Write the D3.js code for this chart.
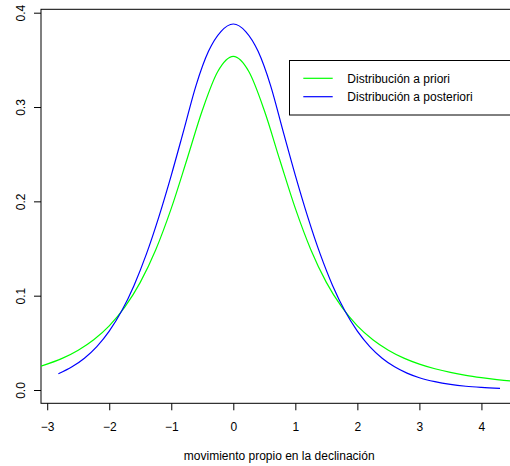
<!DOCTYPE html>
<html>
<head>
<meta charset="utf-8">
<script src="https://cdn.jsdelivr.net/npm/d3@7"></script>
<style>
  body { margin: 0; background: #fff; }
  text { font-family: "Liberation Sans", Arial, sans-serif; }
</style>
</head>
<body>
<div class="chart"></div>
<script>
// prior (green)
var priorX = [-3.1, -2.75, -2.5, -2.25, -2.0, -1.75, -1.5, -1.25, -1.0, -0.75, -0.5, -0.25, 0,
              0.25, 0.5, 0.75, 1.0, 1.25, 1.5, 1.75, 2.0, 2.25, 2.5, 2.75, 3.0, 3.25, 3.5, 3.75, 4.0, 4.25, 4.5, 4.6];
var priorY = [0.0253, 0.0338, 0.0422, 0.0533, 0.0680, 0.0878, 0.1141, 0.1487, 0.1925, 0.2438, 0.2963, 0.3376, 0.3536,
              0.3376, 0.2963, 0.2438, 0.1925, 0.1487, 0.1141, 0.0878, 0.0680, 0.0533, 0.0422, 0.0338, 0.0274, 0.0225, 0.0186, 0.0155, 0.0131, 0.0111, 0.0095, 0.0090];

// posterior (blue)
var postX = [-2.82, -2.6, -2.4, -2.2, -2.0, -1.8, -1.6, -1.4, -1.2, -1.0, -0.8, -0.6, -0.4, -0.2, 0,
             0.2, 0.4, 0.6, 0.8, 1.0, 1.2, 1.4, 1.6, 1.8, 2.0, 2.2, 2.4, 2.6, 2.8, 3.0, 3.25, 3.5, 3.75, 4.0, 4.3];
var postY = [0.0172, 0.0246, 0.0337, 0.0460, 0.0624, 0.0837, 0.1109, 0.1443, 0.1836, 0.2276, 0.2750, 0.3230, 0.3590, 0.3800, 0.3880,
             0.3800, 0.3590, 0.3230, 0.2750, 0.2276, 0.1836, 0.1443, 0.1109, 0.0837, 0.0624, 0.0460, 0.0337, 0.0246, 0.0179, 0.0130, 0.0088, 0.0059, 0.0040, 0.0028, 0.0018];

var xTicks = [-3, -2, -1, 0, 1, 2, 3, 4];
var yTicks = [0.0, 0.1, 0.2, 0.3, 0.4];
var legendLabels = ["Distribución a priori", "Distribución a posteriori"];
var colors = ["#00ff00", "#0000ff"];
var xLabel = "movimiento propio en la declinación";

var width = 510, height = 466;
var plotL = 41, plotR = 517.4, plotT = 9.3, plotB = 403.3;

var svg = d3.select(".chart").append("svg")
    .attr("width", width)
    .attr("height", height);

var x = d3.scaleLinear().domain([-3.1, 4.58]).range([plotL, plotR]);
var y = d3.scaleLinear().domain([-0.0141, 0.4036]).range([plotB, plotT]);

var fmtMinus = function(d) { return d < 0 ? "\u2212" + Math.abs(d) : String(d); };

// box
svg.append("rect")
    .attr("x", plotL).attr("y", plotT)
    .attr("width", plotR - plotL).attr("height", plotB - plotT)
    .attr("fill", "none").attr("stroke", "#000").attr("stroke-width", 1);

// x axis
var xAxis = svg.append("g")
    .attr("transform", "translate(0," + plotB + ")")
    .call(d3.axisBottom(x).tickValues(xTicks).tickSize(7).tickPadding(12).tickFormat(fmtMinus));
xAxis.select(".domain").remove();
xAxis.selectAll("text").attr("font-size", 12).attr("fill", "#000")
    .attr("font-family", "Liberation Sans, Arial, sans-serif");

// y axis
var yAxis = svg.append("g")
    .attr("transform", "translate(" + plotL + ",0)")
    .call(d3.axisLeft(y).tickValues(yTicks).tickSize(7).tickFormat(d3.format(".1f")));
yAxis.select(".domain").remove();
yAxis.selectAll("text")
    .attr("font-size", 12).attr("fill", "#000")
    .attr("font-family", "Liberation Sans, Arial, sans-serif")
    .attr("x", null).attr("dy", null)
    .attr("text-anchor", "middle")
    .attr("transform", "translate(-16,0) rotate(-90)");

svg.append("text")
    .attr("x", (plotL + plotR) / 2)
    .attr("y", 460)
    .attr("text-anchor", "middle")
    .attr("font-size", 12)
    .text(xLabel);

// curves
var line = d3.line()
    .x(function(d) { return x(d[0]); })
    .y(function(d) { return y(d[1]); })
    .curve(d3.curveMonotoneX);

svg.append("clipPath").attr("id", "plotclip")
    .append("rect").attr("x", plotL).attr("y", plotT)
    .attr("width", plotR - plotL).attr("height", plotB - plotT);

var series = [d3.zip(priorX, priorY), d3.zip(postX, postY)];
svg.append("g").attr("clip-path", "url(#plotclip)")
    .selectAll("path")
    .data(series)
    .enter().append("path")
    .attr("d", line)
    .attr("fill", "none")
    .attr("stroke", function(d, i) { return colors[i]; })
    .attr("stroke-width", 1.2);

// legend
var lg = svg.append("g");
lg.append("rect")
    .attr("x", 289.5).attr("y", 60.5)
    .attr("width", 240).attr("height", 54.5)
    .attr("fill", "#fff").attr("stroke", "#000").attr("stroke-width", 1);
legendLabels.forEach(function(lab, i) {
    var yy = 78.3 + i * 18.4;
    lg.append("line")
        .attr("x1", 303.3).attr("x2", 332.7)
        .attr("y1", yy).attr("y2", yy)
        .attr("stroke", colors[i]).attr("stroke-width", 1.2);
    lg.append("text")
        .attr("x", 347.3).attr("y", yy + 4.3)
        .attr("font-size", 12)
        .text(lab);
});
</script>
</body>
</html>
